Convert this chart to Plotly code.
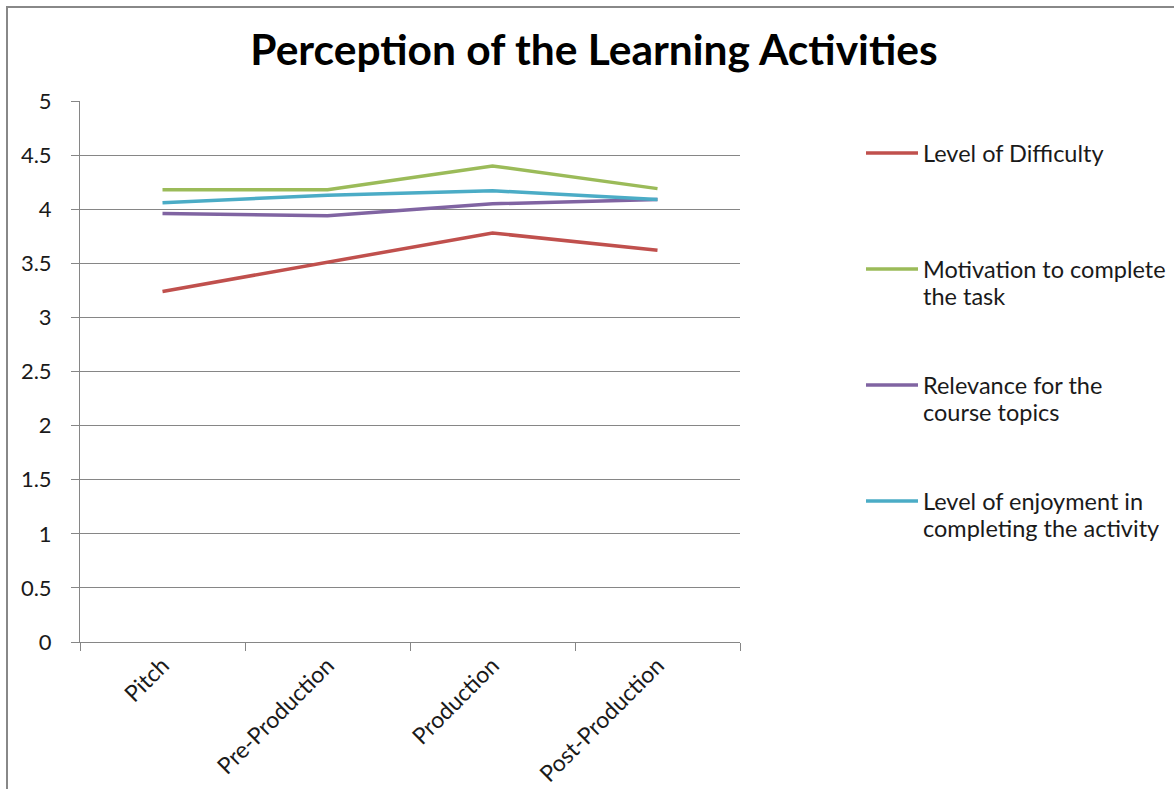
import plotly.graph_objects as go

categories = ["Pitch", "Pre-Production", "Production", "Post-Production"]
series_names = [
    "Level of Difficulty",
    "Motivation to complete<br>the task",
    "Relevance for the<br>course topics",
    "Level of enjoyment in<br>completing the activity",
]
difficulty = [3.24, 3.51, 3.78, 3.62]
motivation = [4.18, 4.18, 4.40, 4.19]
relevance = [3.96, 3.94, 4.05, 4.09]
enjoyment = [4.06, 4.13, 4.17, 4.09]
series_values = [difficulty, motivation, relevance, enjoyment]
colors = ["#C0504D", "#9BBB59", "#8064A2", "#4BACC6"]
y_ticks = [0, 0.5, 1, 1.5, 2, 2.5, 3, 3.5, 4, 4.5, 5]

FONT = "Lato, Carlito, Calibri, sans-serif"
W, H = 1174, 789
L, R, T, B = 80, 740, 101, 642

fig = go.Figure()
for name, vals, col in zip(series_names, series_values, colors):
    fig.add_trace(go.Scatter(
        x=categories, y=vals, mode="lines", name=name.replace("<br>", " "),
        line=dict(color=col, width=3.5), showlegend=False,
    ))

def px_x(x):
    return (x - L) / (R - L)

def px_y(y):
    return (B - y) / (B - T)

shapes = []
annotations = []
# manual legend, evenly spaced like the original
legend_tops = [153, 269, 385, 501]
line_gap = 27
for name, col, ly in zip(series_names, colors, legend_tops):
    shapes.append(dict(type="line", xref="paper", yref="paper",
                       x0=px_x(866), x1=px_x(918), y0=px_y(ly), y1=px_y(ly),
                       line=dict(color=col, width=3.5)))
    for i, part in enumerate(name.split("<br>")):
        annotations.append(dict(xref="paper", yref="paper", x=px_x(921),
                                y=px_y(ly + i * line_gap), xanchor="left", yanchor="middle",
                                text=part, showarrow=False,
                                font=dict(family=FONT, size=23.5, color="#1a1a1a")))

# chart frame (left and top edges visible)
shapes.append(dict(type="line", xref="paper", yref="paper",
                   x0=px_x(7), x1=px_x(7), y0=px_y(7), y1=px_y(800),
                   line=dict(color="#888888", width=2)))
shapes.append(dict(type="line", xref="paper", yref="paper",
                   x0=px_x(6), x1=px_x(1180), y0=px_y(7), y1=px_y(7),
                   line=dict(color="#888888", width=2)))

fig.update_layout(
    width=W, height=H,
    margin=dict(l=L, r=W - R, t=T, b=H - B, pad=0, autoexpand=False),
    paper_bgcolor="white", plot_bgcolor="white",
    title=dict(text="<b>Perception of the Learning Activities</b>",
               x=594 / W, xanchor="center", xref="container",
               y=1 - 50 / H, yanchor="middle", yref="container",
               font=dict(family=FONT, size=42.5, color="black")),
    font=dict(family=FONT, size=22, color="#1a1a1a"),
    shapes=shapes, annotations=annotations,
    xaxis=dict(type="category", range=[-0.5, 3.5], showgrid=False,
               showline=True, linecolor="#868686", linewidth=1,
               ticks="outside", tickson="boundaries", ticklen=8,
               tickcolor="#868686", tickangle=-45, automargin=False,
               tickfont=dict(family=FONT, size=23, color="#1a1a1a")),
    yaxis=dict(range=[0, 5], tickvals=y_ticks, ticktext=[f"{v:g}" for v in y_ticks],
               showgrid=True, gridcolor="#868686", gridwidth=1,
               showline=True, linecolor="#868686", linewidth=1,
               ticks="outside", ticklen=8, tickcolor="#868686",
               ticklabelstandoff=15, zeroline=False, automargin=False,
               tickfont=dict(family=FONT, size=22, color="#1a1a1a")),
    showlegend=False,
)

fig.write_html("out.html")
